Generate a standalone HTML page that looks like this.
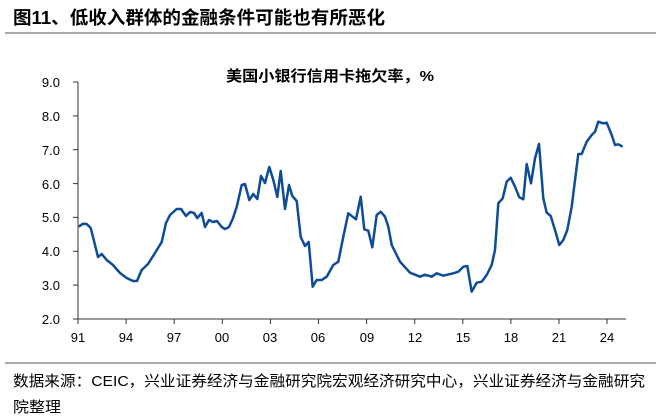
<!DOCTYPE html>
<html><head><meta charset="utf-8"><style>
body{margin:0;background:#fff;}
svg{display:block;}
text{font-family:"Liberation Sans","Noto Sans CJK SC",sans-serif;}
</style></head><body>
<svg width="660" height="419" viewBox="0 0 660 419">
<text x="13" y="24" font-size="18" font-weight="bold" fill="#000" textLength="372" lengthAdjust="spacingAndGlyphs">图11、低收入群体的金融条件可能也有所恶化</text>
<line x1="5" y1="33" x2="656" y2="33" stroke="#777" stroke-width="1.2"/>
<text x="226" y="81" font-size="15" font-weight="bold" fill="#000" textLength="208" lengthAdjust="spacingAndGlyphs">美国小银行信用卡拖欠率，%</text>
<g stroke="#333" stroke-width="1" fill="none">
<line x1="78" y1="82" x2="78" y2="319"/>
<line x1="78" y1="319" x2="626" y2="319"/>
<line x1="73" y1="82" x2="78" y2="82"/><line x1="73" y1="115.9" x2="78" y2="115.9"/><line x1="73" y1="149.7" x2="78" y2="149.7"/><line x1="73" y1="183.6" x2="78" y2="183.6"/><line x1="73" y1="217.4" x2="78" y2="217.4"/><line x1="73" y1="251.3" x2="78" y2="251.3"/><line x1="73" y1="285.1" x2="78" y2="285.1"/><line x1="73" y1="319" x2="78" y2="319"/>
<line x1="78" y1="319" x2="78" y2="324"/><line x1="126.1" y1="319" x2="126.1" y2="324"/><line x1="174.2" y1="319" x2="174.2" y2="324"/><line x1="222.3" y1="319" x2="222.3" y2="324"/><line x1="270.4" y1="319" x2="270.4" y2="324"/><line x1="318.5" y1="319" x2="318.5" y2="324"/><line x1="366.6" y1="319" x2="366.6" y2="324"/><line x1="414.7" y1="319" x2="414.7" y2="324"/><line x1="462.8" y1="319" x2="462.8" y2="324"/><line x1="510.9" y1="319" x2="510.9" y2="324"/><line x1="559" y1="319" x2="559" y2="324"/><line x1="607" y1="319" x2="607" y2="324"/>
</g>
<g font-size="13" fill="#000" text-anchor="end">
<text x="60" y="87">9.0</text><text x="60" y="121">8.0</text><text x="60" y="155">7.0</text><text x="60" y="189">6.0</text><text x="60" y="222">5.0</text><text x="60" y="256">4.0</text><text x="60" y="290">3.0</text><text x="60" y="324">2.0</text>
</g>
<g font-size="13" fill="#000" text-anchor="middle">
<text x="78" y="342">91</text><text x="126" y="342">94</text><text x="174" y="342">97</text><text x="222" y="342">00</text><text x="270" y="342">03</text><text x="318" y="342">06</text><text x="367" y="342">09</text><text x="415" y="342">12</text><text x="463" y="342">15</text><text x="511" y="342">18</text><text x="559" y="342">21</text><text x="607" y="342">24</text>
</g>
<polyline fill="none" stroke="#0f4c96" stroke-width="2.5" stroke-linejoin="round" points="78.7,226.7 83,223.7 86.7,224 90.7,228 93,237 98,257 101.7,254 106.7,260 113,265 120,273 126.7,278 133,281 137,281 141.7,270 148,264 155,253 161.7,242 166,223 170,215 176.7,209 181,209 186,216 190,212 194,213 197.3,218 201.7,213 205,227 209,220 213,222 217,221 221.7,227 225,229 229,227 232.7,219 236.7,207 241.7,185 245,184 249.3,200 253.3,194 257.3,199 261,176 265,183 269.3,167 273.3,180 277.3,197 280.7,171 285,209 289,185 292.3,196 296.7,201 300.7,237 305,246 308.7,242 312.7,286.7 316.7,280 321.7,280 326.7,276.7 333.3,265 338.3,261.7 343.3,236.7 348.3,213.3 356,219.3 360.7,196.7 364.3,229.3 368.3,230.7 372.3,247.3 376.7,215 380.7,211.7 385,216.7 388.3,226.7 391.7,245 400,261.7 410,272.7 420,276.7 425,274.7 431.7,276.7 436.7,273.3 443.3,275.7 453.3,273.3 458.3,271.7 463.3,266.7 467.3,266 471.7,291.7 476.7,282.7 481.7,281.7 486.7,275 491.7,265 495,250 498.3,203.3 502.7,198.3 506.7,181.7 510.7,177.7 515,186.7 519.3,197.3 523.3,199.3 526.7,164 531,183.3 535,158.3 539,144 543.3,198.3 546.7,212.7 550.7,216 555,230 559.3,245 563.3,240 567.3,230 571.7,206.7 578.3,154 581.7,154 586.7,141.7 591.7,135 595,131.7 598.3,121.7 602.7,123.3 606.7,122.7 611.7,135 615,145 618.3,144.3 622.7,146.7"/>
<line x1="5" y1="363" x2="656" y2="363" stroke="#777" stroke-width="1.2"/>
<text x="13" y="386" font-size="15" fill="#000" textLength="632" lengthAdjust="spacingAndGlyphs">数据来源：CEIC，兴业证券经济与金融研究院宏观经济研究中心，兴业证券经济与金融研究</text>
<text x="13" y="412" font-size="15" fill="#000" textLength="48" lengthAdjust="spacingAndGlyphs">院整理</text>
</svg>
</body></html>
